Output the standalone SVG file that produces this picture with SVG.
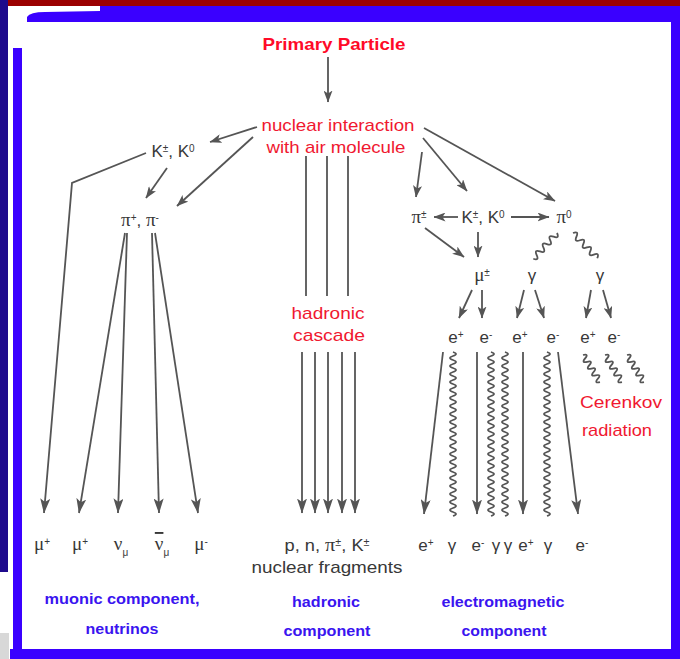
<svg xmlns="http://www.w3.org/2000/svg" xmlns:xlink="http://www.w3.org/1999/xlink" width="680" height="659" viewBox="0 0 680 659">
<style>
.ln{fill:none;stroke:#555;stroke-width:1.8}
.ar{fill:none;stroke:#555;stroke-width:1.8;marker-end:url(#ah)}
.arb{fill:none;stroke:#555;stroke-width:1.8;marker-end:url(#ahb)}
.red{font-family:"Liberation Sans",Arial,sans-serif;font-size:17px;fill:#f01830;text-anchor:middle}
.blue{font-family:"Liberation Sans",Arial,sans-serif;font-size:15px;font-weight:bold;fill:#3a14f0;text-anchor:middle}
.p{font-family:"Liberation Sans",Arial,sans-serif;font-size:17px;fill:#383838;text-anchor:middle}
.g{font-family:"Liberation Serif","Times New Roman",serif;font-size:19px}
.sup{font-size:10px;baseline-shift:super}
.sub{font-size:10px;baseline-shift:sub}
</style>
<defs>
<marker id="ah" viewBox="0 0 12 9" refX="11.5" refY="4.5" markerWidth="12" markerHeight="9" markerUnits="userSpaceOnUse" orient="auto"><path d="M0,0 L12,4.5 L0,9 L3,4.5 Z" fill="#555"/></marker>
<marker id="ahb" viewBox="0 0 15 10" refX="14.5" refY="5" markerWidth="15" markerHeight="10" markerUnits="userSpaceOnUse" orient="auto"><path d="M0,0 L15,5 L0,10 L3.5,5 Z" fill="#555"/></marker>
<path id="wv" class="ln" d="M0,0 q6,2 0,4 t0,4 t0,4 t0,4 t0,4 t0,4 t0,4 t0,4 t0,4 t0,4 t0,4 t0,4 t0,4 t0,4 t0,4 t0,4 t0,4 t0,4 t0,4 t0,4 t0,4 t0,4 t0,4 t0,4 t0,4 t0,4 t0,4 t0,4 t0,4 t0,4 t0,4 t0,4 t0,4 t0,4 t0,4 t0,4 t0,4 t0,4 t0,4 t0,4 t0,4"/>
<path id="wd" class="ln" d="M0,0 q6,2.5 0,5 t0,5 t0,5 t0,5 t0,5 t0,5 t0,5"/>
<path id="wc" class="ln" d="M0,0 q6,2 0,4 t0,4 t0,4 t0,4 t0,4 t0,4 t0,4 t0,4"/>
</defs>

<g id="frame">
<rect x="0" y="0" width="680" height="659" fill="#ffffff"/>
<rect x="8" y="0" width="672" height="6" fill="#9b0000"/>
<rect x="0" y="0" width="8" height="572" fill="#1e0a8c"/>
<rect x="0" y="633" width="9" height="26" fill="#d8d8d8"/>
<rect x="100" y="6" width="580" height="16" fill="#3a00ff"/>
<path d="M27,17 Q30,12 45,12 L100,11 L100,22 L27,22 Z" fill="#3a00ff"/>
<rect x="13" y="48" width="9" height="611" fill="#3a00ff"/>
<rect x="10" y="649" width="670" height="10" fill="#3a00ff"/>
<rect x="671" y="6" width="9" height="653" fill="#3a00ff"/>
</g>

<g id="connectors">
<line class="ar" x1="328" y1="57" x2="328" y2="102"/>
<line class="ar" x1="257" y1="127" x2="210" y2="142"/>
<line class="ar" x1="253" y1="137" x2="177" y2="206"/>
<line class="ar" x1="167" y1="168" x2="146" y2="198"/>
<polyline class="arb" points="146,153 72,183 44,513"/>
<line class="arb" x1="125" y1="233" x2="79" y2="513"/>
<line class="arb" x1="127" y1="233" x2="118" y2="513"/>
<line class="arb" x1="152" y1="233" x2="159" y2="513"/>
<line class="arb" x1="155" y1="233" x2="198" y2="513"/>
<line class="ln" x1="306" y1="156" x2="306" y2="296"/>
<line class="ln" x1="327" y1="156" x2="327" y2="296"/>
<line class="ln" x1="348" y1="156" x2="348" y2="296"/>
<line class="arb" x1="302" y1="352" x2="302" y2="513"/>
<line class="arb" x1="315" y1="352" x2="315" y2="513"/>
<line class="arb" x1="328" y1="352" x2="328" y2="513"/>
<line class="arb" x1="342" y1="352" x2="342" y2="513"/>
<line class="arb" x1="355" y1="352" x2="355" y2="513"/>
<line class="ar" x1="424" y1="128" x2="555" y2="201"/>
<line class="ar" x1="423" y1="138" x2="467" y2="191"/>
<line class="ar" x1="422" y1="152" x2="416" y2="197"/>
<line class="ar" x1="458" y1="217" x2="434" y2="217"/>
<line class="ar" x1="511" y1="217" x2="549" y2="217"/>
<line class="ar" x1="425" y1="228" x2="464" y2="257"/>
<line class="ar" x1="478" y1="232" x2="478" y2="257"/>
<line class="ar" x1="472" y1="290" x2="459" y2="318"/>
<line class="ar" x1="482" y1="290" x2="482" y2="318"/>
<line class="ar" x1="524" y1="290" x2="517" y2="318"/>
<line class="ar" x1="535" y1="290" x2="544" y2="318"/>
<line class="ar" x1="591" y1="290" x2="586" y2="318"/>
<line class="ar" x1="603" y1="290" x2="611" y2="318"/>
<line class="arb" x1="443" y1="352" x2="424" y2="514"/>
<line class="arb" x1="477" y1="352" x2="477" y2="514"/>
<line class="arb" x1="523" y1="352" x2="523" y2="514"/>
<line class="arb" x1="558" y1="352" x2="578" y2="514"/>
<use href="#wv" x="453" y="352"/>
<use href="#wv" x="491" y="352"/>
<use href="#wv" x="505" y="352"/>
<use href="#wv" x="547" y="352"/>
<use href="#wd" transform="translate(557,233) rotate(42.6)"/>
<use href="#wd" transform="translate(573,233) rotate(-43.8)"/>
<use href="#wc" transform="translate(583,355) rotate(-32)"/>
<use href="#wc" transform="translate(605,355) rotate(-32)"/>
<use href="#wc" transform="translate(627,355) rotate(-32)"/>
</g>

<g id="primary"><text class="red" x="334" y="50" font-weight="bold" font-size="18" textLength="143" lengthAdjust="spacingAndGlyphs" style="fill:#ff0a28">Primary Particle</text></g>
<g id="nuclear">
<text class="red" x="338" y="131" textLength="153" lengthAdjust="spacingAndGlyphs">nuclear interaction</text>
<text class="red" x="336" y="153" textLength="139" lengthAdjust="spacingAndGlyphs">with air molecule</text>
</g>

<g id="kaons-left"><text class="p" x="173" y="157">K<tspan class="sup">±</tspan>, K<tspan class="sup">0</tspan></text></g>
<g id="pions-left"><text class="p" x="140" y="226"><tspan class="g">π</tspan><tspan class="sup">+</tspan>, <tspan class="g">π</tspan><tspan class="sup">-</tspan></text></g>

<g id="muonic-products">
<text class="p" x="42" y="550"><tspan class="g">μ</tspan><tspan class="sup">+</tspan></text>
<text class="p" x="80" y="550"><tspan class="g">μ</tspan><tspan class="sup">+</tspan></text>
<text class="p" x="121" y="550"><tspan class="g">ν</tspan><tspan class="sub">μ</tspan></text>
<text class="p" x="162" y="550"><tspan class="g" text-decoration="overline">ν</tspan><tspan class="sub">μ</tspan></text>
<text class="p" x="201" y="550"><tspan class="g">μ</tspan><tspan class="sup">-</tspan></text>
</g>
<g id="muonic-label">
<text class="blue" x="122" y="604" textLength="155" lengthAdjust="spacingAndGlyphs">muonic component,</text>
<text class="blue" x="122" y="634" textLength="73" lengthAdjust="spacingAndGlyphs">neutrinos</text>
</g>

<g id="hadronic-cascade">
<text class="red" x="328" y="319" textLength="73" lengthAdjust="spacingAndGlyphs">hadronic</text>
<text class="red" x="329" y="341" textLength="72" lengthAdjust="spacingAndGlyphs">cascade</text>
</g>
<g id="hadronic-products">
<text class="p" x="327" y="551" textLength="85" lengthAdjust="spacingAndGlyphs">p, n, <tspan class="g">π</tspan><tspan class="sup">±</tspan>, K<tspan class="sup">±</tspan></text>
<text class="p" x="327" y="573" font-size="16" textLength="151" lengthAdjust="spacingAndGlyphs">nuclear fragments</text>
</g>
<g id="hadronic-label">
<text class="blue" x="326" y="607" textLength="68" lengthAdjust="spacingAndGlyphs">hadronic</text>
<text class="blue" x="327" y="636" textLength="87" lengthAdjust="spacingAndGlyphs">component</text>
</g>

<g id="pion-right"><text class="p" x="419" y="223"><tspan class="g">π</tspan><tspan class="sup">±</tspan></text></g>
<g id="kaons-right"><text class="p" x="483" y="223">K<tspan class="sup">±</tspan>, K<tspan class="sup">0</tspan></text></g>
<g id="pion0"><text class="p" x="564" y="223"><tspan class="g">π</tspan><tspan class="sup">0</tspan></text></g>
<g id="muon-right"><text class="p" x="482" y="281"><tspan class="g">μ</tspan><tspan class="sup">±</tspan></text></g>
<g id="gamma1"><text class="p" x="532" y="281">γ</text></g>
<g id="gamma2"><text class="p" x="600" y="281">γ</text></g>

<g id="electrons">
<text class="p" x="456" y="343">e<tspan class="sup">+</tspan></text>
<text class="p" x="486" y="343">e<tspan class="sup">-</tspan></text>
<text class="p" x="520" y="343">e<tspan class="sup">+</tspan></text>
<text class="p" x="553" y="343">e<tspan class="sup">-</tspan></text>
<text class="p" x="588" y="343">e<tspan class="sup">+</tspan></text>
<text class="p" x="614" y="343">e<tspan class="sup">-</tspan></text>
</g>
<g id="cerenkov">
<text class="red" x="621" y="408" textLength="82" lengthAdjust="spacingAndGlyphs">Cerenkov</text>
<text class="red" x="617" y="436" textLength="70" lengthAdjust="spacingAndGlyphs">radiation</text>
</g>

<g id="em-products">
<text class="p" x="426" y="551">e<tspan class="sup">+</tspan></text>
<text class="p" x="452" y="551">γ</text>
<text class="p" x="478" y="551">e<tspan class="sup">-</tspan></text>
<text class="p" x="496" y="551">γ</text>
<text class="p" x="508" y="551">γ</text>
<text class="p" x="526" y="551">e<tspan class="sup">+</tspan></text>
<text class="p" x="548" y="551">γ</text>
<text class="p" x="582" y="551">e<tspan class="sup">-</tspan></text>
</g>
<g id="em-label">
<text class="blue" x="503" y="607" textLength="123" lengthAdjust="spacingAndGlyphs">electromagnetic</text>
<text class="blue" x="504" y="636" textLength="85" lengthAdjust="spacingAndGlyphs">component</text>
</g>
</svg>
